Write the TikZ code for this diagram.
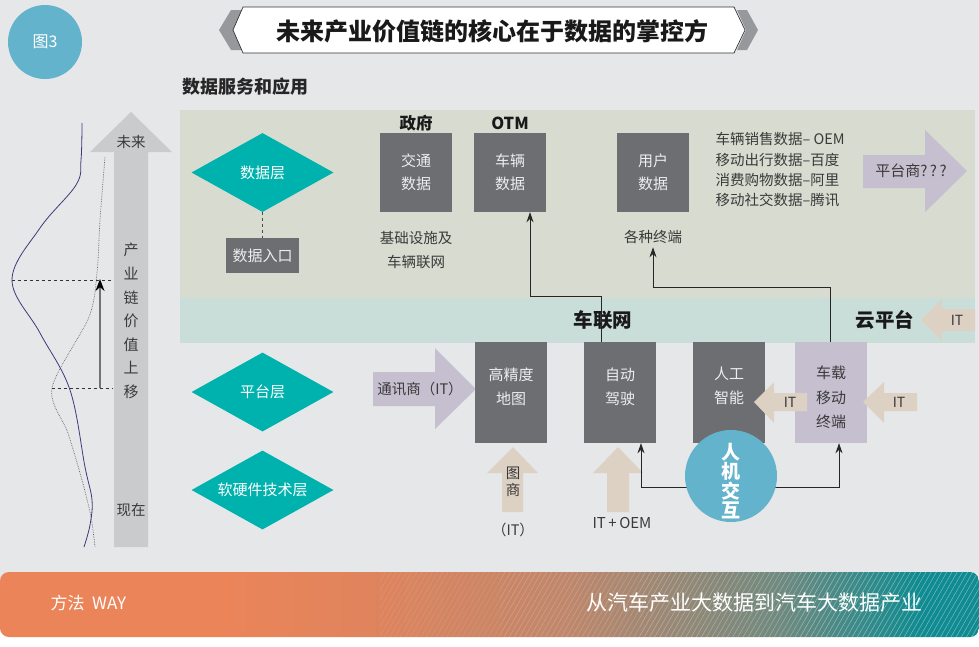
\documentclass[tikz,border=0pt]{standalone}
\usepackage{fontspec}
\setmainfont{Noto Sans CJK SC}
\usetikzlibrary{arrows.meta,shapes.geometric,patterns.meta}
\definecolor{pagebg}{HTML}{E6E7E9}
\definecolor{panel}{HTML}{D8DBD0}
\definecolor{band}{HTML}{C9DDD9}
\definecolor{boxgrey}{HTML}{6D6E72}
\definecolor{boxtxt}{HTML}{EDEDED}
\definecolor{teal}{HTML}{00B2AE}
\definecolor{lav}{HTML}{C5BFD0}
\definecolor{tan}{HTML}{DDD1C4}
\definecolor{biggrey}{HTML}{CACBCD}
\definecolor{cblue}{HTML}{63B3CD}
\definecolor{dtext}{HTML}{3A3A3A}
\definecolor{navy}{HTML}{3B3B7A}
\definecolor{chev}{HTML}{97989C}
\definecolor{orange}{HTML}{EC8459}
\definecolor{orange2}{HTML}{DF845D}
\definecolor{tealdk}{HTML}{0F8B91}
\definecolor{midbr}{HTML}{BF876C}
\definecolor{greyteal}{HTML}{6E8A80}
\pgfdeclarehorizontalshading{bandshade}{100bp}{color(0bp)=(orange); color(25bp)=(orange); color(36bp)=(orange); color(44bp)=(orange2); color(54bp)=(midbr); color(65bp)=(greyteal); color(72bp)=(tealdk); color(100bp)=(tealdk)}
\tikzset{
  gbox/.style={fill=boxgrey, text=boxtxt, minimum width=72pt, inner sep=0pt, align=center, font=\fontsize{15}{23}\selectfont},
  dbox/.style={gbox, minimum height=79pt},
  pbox/.style={fill=boxgrey, minimum width=72pt, minimum height=101pt, inner sep=0pt},
  btxt/.style={text=boxtxt, align=center, font=\fontsize{15}{24}\selectfont},
  dtxt/.style={text=dtext, align=center, font=\fontsize{14.5}{24}\selectfont},
  layer/.style={diamond, aspect=1.8, fill=teal, text=white, minimum width=142pt, minimum height=79pt, inner sep=0pt, font=\fontsize{15}{18}\selectfont},
  conn/.style={draw=black!85, line width=0.8pt},
  tipk/.style={-{Stealth[length=10pt,width=7pt]}},
}
\begin{document}
\begin{tikzpicture}[x=1pt,y=-1pt]
\useasboundingbox (0,0) rectangle (979,646);
\fill[pagebg] (0,0) rectangle (979,646);
% bottom band
\fill[white] (0,630) rectangle (979,646);
\shade[shading=bandshade, rounded corners=9pt] (0,637) -- (0,572) -- (979,572) -- (979,637) -- cycle;
\begin{scope}
  \clip (380,572) rectangle (979,637);
  \fill[pattern={Lines[angle=60,distance=4.5pt,line width=0.5pt]}, pattern color=white, opacity=0.12] (380,572) rectangle (500,637);
  \fill[pattern={Lines[angle=60,distance=4.5pt,line width=0.5pt]}, pattern color=white, opacity=0.22] (500,572) rectangle (640,637);
  \fill[pattern={Lines[angle=60,distance=4.5pt,line width=0.5pt]}, pattern color=white, opacity=0.32] (640,572) rectangle (800,637);
  \fill[pattern={Lines[angle=60,distance=4.5pt,line width=0.5pt]}, pattern color=white, opacity=0.42] (800,572) rectangle (979,637);
\end{scope}
\node[text=white, anchor=west, font=\fontsize{17}{20}\selectfont] (way) at (47,603) {方法\ \ WAY};
\node[text=white, anchor=east, font=\fontsize{21}{22}\selectfont] (slogan) at (926,603) {从汽车产业大数据到汽车大数据产业};
% figure badge
\node[circle, fill=cblue, minimum size=74pt, text=white, font=\fontsize{16}{18}\selectfont] (fig) at (45,42) {图3};
% title banner
\fill[chev] (231,10) -- (219,30) -- (231,50) -- (245,50) -- (235,30) -- (245,10) -- cycle;
\fill[chev] (737,10) -- (747,10) -- (758,30) -- (747,50) -- (737,50) -- (746,30) -- cycle;
\filldraw[fill=white, draw=black!80, line width=0.7pt] (243,7) -- (233,30) -- (243,53) -- (734,53) -- (745,30) -- (734,7) -- cycle;
\node[text=black!90, font=\fontsize{24}{26}\selectfont\bfseries] (title) at (492,31) {未来产业价值链的核心在于数据的掌控方};
\node[text=black!85, font=\fontsize{18}{20}\selectfont\bfseries] (svc) at (245,87) {数据服务和应用};
% panels
\fill[panel] (180,110) rectangle (975,298);
\fill[band] (180,298) rectangle (975,343);
% left big arrow
\fill[biggrey] (114,547) -- (114,152) -- (90,152) -- (131,112) -- (172,152) -- (148,152) -- (148,547) -- cycle;
\node[dtxt, font=\fontsize{14.5}{16}\selectfont] (future) at (131,142) {未来};
\node[dtxt, font=\fontsize{14.5}{16}\selectfont] (now) at (131,510) {现在};
\node[dtxt, font=\fontsize{15}{23.6}\selectfont] (shift) at (131,321) {产\\业\\链\\价\\值\\上\\移};
% curves
\draw[navy, line width=0.8pt] plot[smooth, tension=0.6] coordinates {(82,123) (81,160) (76,185) (40,228) (12,280) (40,333) (70,390) (85,467) (92,500) (90,525) (84,547)};
\draw[black!60, line width=0.7pt, densely dotted] plot[smooth, tension=0.5] coordinates {(105,157) (100,220) (97,273) (89,317) (52,388) (68,433) (82,480) (91,517) (95,547)};
\coordinate (peakA) at (12,280);
\coordinate (peakB) at (52,388);
\coordinate (axA) at (113,280);
\coordinate (axB) at (113,388);
\draw[black!80, dashed, line width=0.7pt] (peakA) -- (axA);
\draw[black!80, dashed, line width=0.7pt] (peakB) -- (axB);
\coordinate (upS) at (100,388);
\coordinate (upE) at (100,279);
\draw[black!55, line width=1.6pt, -{Stealth[length=12pt,width=9pt,color=black]}] (upS) -- (upE);
% data layer
\node[layer] (datalayer) at (262.5,172.5) {数据层};
\node[gbox, minimum width=73pt, minimum height=35pt] (entry) at (262.5,255.5) {数据入口};
\draw[black!70, dashed, line width=0.9pt] (datalayer.south) -- (entry.north);
\node[text=black!90, font=\fontsize{16.5}{18}\selectfont\bfseries] (gov) at (416,123) {政府};
\node[text=black!90, font=\fontsize{16.5}{18}\selectfont\bfseries] (otm) at (510,123) {OTM};
\node[dbox] (traffic) at (416,172.5) {交通\\数据};
\node[dbox] (vehdata) at (510,172.5) {车辆\\数据};
\node[dbox] (userdata) at (653,172.5) {用户\\数据};
\node[dtxt] (infra) at (416,250) {基础设施及\\车辆联网};
\node[dtxt] (terminals) at (653,237) {各种终端};
\node[text=dtext, align=left, anchor=west, font=\fontsize{14.5}{20.3}\selectfont] (datalist) at (712,170) {车辆销售数据– OEM\\移动出行数据–百度\\消费购物数据–阿里\\移动社交数据–腾讯};
\fill[lav] (863,155) -- (925,155) -- (925,130) -- (967,171) -- (925,212) -- (925,188) -- (863,188) -- cycle;
\node[text=dtext, font=\fontsize{15}{16}\selectfont] (platformer) at (911,171) {平台商?\,?\,?};
% band
\node[text=black!90, font=\fontsize{19.5}{20}\selectfont\bfseries] (iov) at (603,320) {车联网};
\node[text=black!90, font=\fontsize{19.5}{20}\selectfont\bfseries] (cloud) at (885,320) {云平台};
\fill[tan] (921,320) -- (942,299) -- (942,309) -- (975,309) -- (975,331) -- (942,331) -- (942,341) -- cycle;
\node[text=dtext, font=\fontsize{14}{16}\selectfont] (itc) at (957,320) {IT};
% platform layer
\node[layer] (platlayer) at (262.5,392) {平台层};
\node[layer] (hwlayer) at (262.5,490) {软硬件技术层};
\fill[lav] (373,372) -- (435,372) -- (435,348) -- (476,389) -- (435,429) -- (435,406) -- (373,406) -- cycle;
\node[text=dtext, font=\fontsize{14.5}{16}\selectfont] (telco) at (420,389) {通讯商（IT）};
\node[pbox] (hdmap) at (511,392.5) {};
\node[btxt] at (511,386.5) {高精度\\地图};
\node[pbox] (ad) at (620,392.5) {};
\node[btxt] at (620,386.5) {自动\\驾驶};
\node[pbox] (ai) at (729,392.5) {};
\node[btxt] at (729,385.5) {人工\\智能};
\node[pbox, fill=lav] (vt) at (831,392.5) {};
\node[dtxt, font=\fontsize{15}{24.5}\selectfont] at (831,397.5) {车载\\移动\\终端};
% tan arrows
\fill[tan] (502,512) -- (502,473) -- (487,473) -- (513,447) -- (538,473) -- (523,473) -- (523,512) -- cycle;
\node[dtxt, font=\fontsize{14.5}{16.5}\selectfont] (mapco) at (513,482) {图\\商};
\node[dtxt] (mapit) at (513,530) {（IT）};
\fill[tan] (607,512) -- (607,473) -- (593,473) -- (618,447) -- (643,473) -- (629,473) -- (629,512) -- cycle;
\node[dtxt, font=\fontsize{15}{24}\selectfont] (itoem) at (622,523) {IT\,+\,OEM};
\fill[tan] (754,402) -- (774,382) -- (774,393) -- (807,393) -- (807,411) -- (774,411) -- (774,423) -- cycle;
\node[text=dtext, font=\fontsize{14}{16}\selectfont] (it1) at (790,402) {IT};
\fill[tan] (863,402) -- (884,382) -- (884,393) -- (917,393) -- (917,411) -- (884,411) -- (884,423) -- cycle;
\node[text=dtext, font=\fontsize{14}{16}\selectfont] (it2) at (899,402) {IT};
% connectors
\draw[conn, tipk] ([xshift=-19pt]ad.north) -- ++(0,-45) -| ([xshift=20pt]vehdata.south);
\draw[conn, tipk] ([xshift=-1pt]vt.north) -- ++(0,-54) -| (terminals.south);
\coordinate (hmiy) at (731,487);
\draw[conn, {Stealth[length=10pt,width=7pt]}-{Stealth[length=10pt,width=7pt]}] ([xshift=21pt]ad.south) |- (hmiy) -| ([xshift=8pt]vt.south);
\node[circle, fill=cblue, minimum size=92pt, inner sep=0pt] (hmi) at (731,476) {};
\node[text=white, align=center, font=\fontsize{19}{19.5}\selectfont\bfseries] (hmitxt) at (731,481) {人\\机\\交\\互};
\end{tikzpicture}
\end{document}
